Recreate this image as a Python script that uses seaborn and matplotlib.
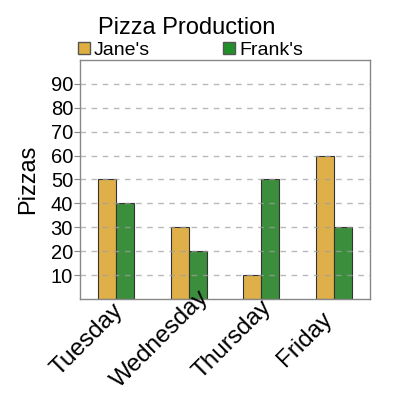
import pandas as pd
import matplotlib
matplotlib.use("Agg")
import matplotlib.pyplot as plt
import matplotlib.transforms as mtrans
import seaborn as sns
from matplotlib.lines import Line2D

days = ["Tuesday", "Wednesday", "Thursday", "Friday"]
janes = [50, 30, 10, 60]
franks = [40, 20, 50, 30]
series = ["Jane's", "Frank's"]
y_ticks = [10, 20, 30, 40, 50, 60, 70, 80, 90]

bar_colors = ["#dfb04a", "#3b8e3b"]
legend_colors = ["#dfb040", "#22902a"]

df = pd.DataFrame({
    "day": days * 2,
    "who": [series[0]] * len(days) + [series[1]] * len(days),
    "pizzas": janes + franks,
})

sns.set_style("white")
plt.rcParams["font.family"] = ["Liberation Sans", "DejaVu Sans"]
plt.rcParams["text.color"] = "black"
plt.rcParams["axes.labelcolor"] = "black"

fig = plt.figure(figsize=(4, 4), dpi=100)
ax = fig.add_axes([0.2, 0.2525, 0.725, 0.5975])

sns.barplot(data=df, x="day", y="pizzas", hue="who", order=days, hue_order=series,
            palette=bar_colors, saturation=1, width=0.5, edgecolor="#333333",
            linewidth=0.8, legend=False, ax=ax, zorder=1)

ax.set_xlim(-0.5, 3.5)
ax.set_ylim(0, 100)
ax.set_yticks(y_ticks)
ax.set_yticklabels([str(t) for t in y_ticks], fontsize=14.5)
ax.yaxis.grid(True, linestyle=(0, (4, 4)), color="#a0a0a0", alpha=0.75, linewidth=1, zorder=3)
ax.set_axisbelow(False)
ax.tick_params(axis="y", length=4, color="#888888", labelcolor="black", pad=1, left=True)
ax.tick_params(axis="x", length=0, pad=0, labelcolor="black")

# labels are centred on a point down-left of each tick
shift = mtrans.ScaledTranslation(-0.29, -0.405, fig.dpi_scale_trans)
for lab in ax.get_xticklabels():
    lab.set_rotation(45)
    lab.set_rotation_mode("anchor")
    lab.set_ha("center")
    lab.set_va("center")
    lab.set_fontsize(17.5)
    lab.set_transform(lab.get_transform() + shift)

for s in ax.spines.values():
    s.set_color("#888888")
    s.set_linewidth(1)

ax.set_xlabel("")
ax.set_ylabel("Pizzas", fontsize=17, labelpad=8)

fig.text(0.467, 0.93, "Pizza Production", fontsize=17, ha="center", va="center")

handles = [Line2D([], [], marker="s", linestyle="", markersize=8,
                  markerfacecolor=c, markeredgecolor="#555555") for c in legend_colors]
fig.legend(handles, series, loc="lower left", bbox_to_anchor=(0.185, 0.852), ncol=2,
           frameon=False, fontsize=14, handletextpad=0.0, columnspacing=3.6,
           handlelength=1.0, borderaxespad=0, borderpad=0)

fig.savefig("out.png", dpi=100)
